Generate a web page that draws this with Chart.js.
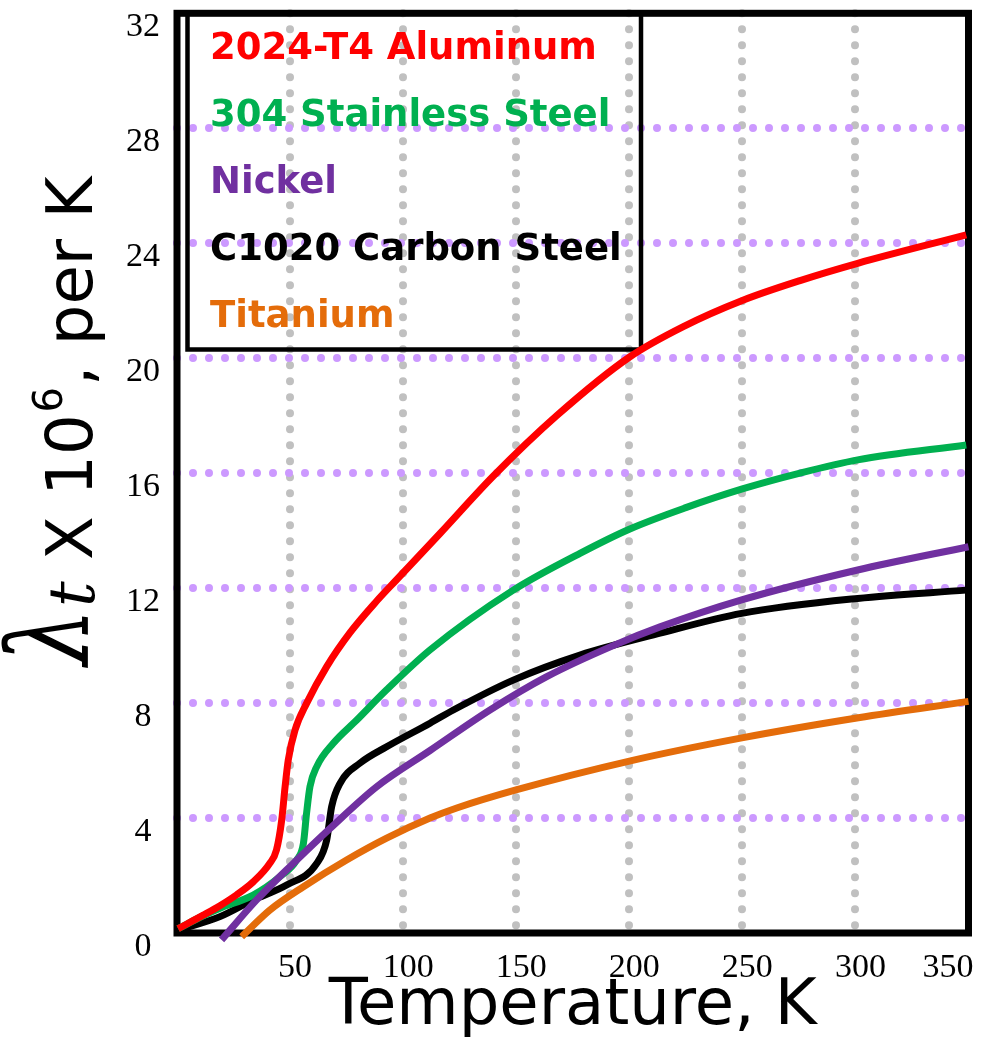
<!DOCTYPE html>
<html>
<head>
<meta charset="utf-8">
<script src="https://cdn.jsdelivr.net/npm/chart.js@4.4.1/dist/chart.umd.min.js"></script>
<style>
  html, body { margin: 0; padding: 0; background: #ffffff; }
  #wrap { width: 983px; height: 1039px; }
</style>
</head>
<body>
<div id="wrap"><canvas id="chart" width="983" height="1039"></canvas></div>
<script>
// Axis ticks
const tempTicks = [0, 50, 100, 150, 200, 250, 300, 350];
const alphaTicks = [0, 4, 8, 12, 16, 20, 24, 28, 32];

// Series names and colours
const seriesNames = ['2024-T4 Aluminum', '304 Stainless Steel', 'Nickel', 'C1020 Carbon Steel', 'Titanium'];
const seriesColors = ['#ff0000', '#00b050', '#7030a0', '#000000', '#e46c0a'];

// Thermal expansion coefficient (x 10^-6 per K) against temperature (K)
const aluminumT = [0.5, 11.6, 19, 26.4, 33.7, 41, 44, 46.3, 47.8, 49.2, 52.2, 57.3, 66.2, 76.5, 88.3, 97.2, 116.3, 139.9, 167.9, 200.3, 223.9, 249.7, 275.5, 301, 349];
const aluminumA = [0.15, 0.62, 0.95, 1.33, 1.78, 2.42, 2.89, 3.93, 5.09, 6.02, 7.06, 7.99, 9.27, 10.45, 11.55, 12.3, 13.9, 15.9, 18.0, 20.05, 21.1, 22.0, 22.7, 23.3, 24.29];

const stainlessT = [0.5, 11.6, 19, 33.7, 45.5, 52.9, 55.9, 57.3, 58.8, 61.8, 69.1, 79.5, 92.7, 111.9, 148.7, 178.2, 200, 225, 250, 275.5, 301, 349];
const stainlessA = [0.15, 0.6, 0.86, 1.32, 1.96, 2.54, 3.12, 4.17, 5.09, 5.79, 6.6, 7.41, 8.46, 9.85, 11.93, 13.21, 14.05, 14.8, 15.45, 16.0, 16.46, 16.98];

const nickelT = [19.7, 35.2, 51.4, 67.7, 88.3, 111.9, 138.4, 163.5, 192.9, 213.6, 249.7, 301, 350];
const nickelA = [-0.24, 1.15, 2.42, 3.64, 5.09, 6.35, 7.76, 8.92, 10.0, 10.65, 11.59, 12.63, 13.44];

const carbonT = [0.5, 19, 33.7, 48.5, 61.8, 66.2, 68.4, 72.1, 80.9, 92.7, 111.9, 122.2, 148.7, 178.2, 213.6, 249.7, 301, 349];
const carbonA = [0.1, 0.57, 1.15, 1.67, 2.42, 3.24, 4.4, 5.21, 5.91, 6.48, 7.3, 7.76, 8.8, 9.67, 10.43, 11.12, 11.64, 11.93];

const titaniumT = [28.6, 41.1, 55.9, 75, 92.7, 111.9, 123.7, 149.5, 201, 249.8, 301.3, 350];
const titaniumA = [-0.13, 0.8, 1.61, 2.54, 3.3, 4.0, 4.35, 4.97, 6.0, 6.79, 7.49, 8.06];

const seriesT = [aluminumT, stainlessT, nickelT, carbonT, titaniumT];
const seriesA = [aluminumA, stainlessA, nickelA, carbonA, titaniumA];

const datasets = seriesNames.map((name, i) => ({
  label: name,
  data: seriesT[i].map((t, k) => ({ x: t, y: seriesA[i][k] })),
  borderColor: seriesColors[i],
  backgroundColor: seriesColors[i],
  borderWidth: 7,
  pointRadius: 0,
  fill: false,
  cubicInterpolationMode: 'monotone',
  clip: false,
  order: name === 'Nickel' ? -1 : 0
}));

const transparent = 'rgba(0,0,0,0)';

// Round caps so that the zero-length dashes of the grid become dots
const roundCaps = {
  id: 'roundCaps',
  beforeDraw(chart) { chart.ctx.lineCap = 'round'; }
};

// Heavy frame round the plot and the box round the legend
const frames = {
  id: 'frames',
  beforeDatasetsDraw(chart) {
    const { ctx, chartArea: a } = chart;
    ctx.save();
    ctx.strokeStyle = '#000000';
    ctx.lineCap = 'butt';
    ctx.lineJoin = 'miter';
    ctx.setLineDash([]);
    ctx.lineWidth = 4.5;
    ctx.strokeRect(a.left + 10.5, a.top, 453.5, 336.2);
    ctx.lineWidth = 7;
    ctx.strokeRect(a.left, a.top, a.right - a.left, a.bottom - a.top);
    ctx.restore();
  }
};

// Rotated y-axis title: lambda_t X 10^6, per K
const yTitle = {
  id: 'yTitle',
  afterDraw(chart) {
    const ctx = chart.ctx;
    ctx.save();
    ctx.translate(92, 665);
    ctx.rotate(-Math.PI / 2);
    ctx.fillStyle = '#000000';
    ctx.textAlign = 'left';
    ctx.textBaseline = 'alphabetic';

    ctx.save();
    ctx.scale(0.8, 1);
    ctx.font = "italic 112px 'DejaVu Serif'";
    ctx.fillText('\u03bb', 0, -4);
    ctx.restore();

    ctx.font = "italic 64px 'DejaVu Serif'";
    ctx.fillText('t', 58, 2);

    let x = 105;
    ctx.font = "64px 'DejaVu Sans'";
    ctx.fillText('X 10', x, 0);
    x += ctx.measureText('X 10').width + 2;
    ctx.font = "40px 'DejaVu Sans'";
    ctx.fillText('6', x, -30);
    x += ctx.measureText('6').width + 1;
    ctx.font = "64px 'DejaVu Sans'";
    ctx.fillText(', per K', x, 0);
    ctx.restore();
  }
};

new Chart(document.getElementById('chart'), {
  type: 'line',
  data: { datasets },
  plugins: [roundCaps, frames, yTitle],
  options: {
    responsive: false,
    animation: false,
    events: [],
    layout: { padding: { left: 0, top: 13.3, right: 14.5, bottom: 0 } },
    plugins: {
      tooltip: { enabled: false },
      legend: {
        position: 'chartArea',
        align: 'start',
        title: { display: true, text: ' ', font: { size: 9, lineHeight: 1 }, padding: 0 },
        labels: {
          boxWidth: 0,
          boxHeight: 52.5,
          padding: 14.5,
          font: { family: "'DejaVu Sans'", weight: 'bold', size: 37 },
          generateLabels: (chart) => chart.data.datasets.map((ds, i) => ({
            text: ds.label,
            fontColor: ds.borderColor,
            fillStyle: transparent,
            strokeStyle: transparent,
            lineWidth: 0,
            hidden: false,
            datasetIndex: i
          }))
        }
      }
    },
    scales: {
      x: {
        type: 'linear',
        min: 0,
        max: 350,
        afterBuildTicks: (scale) => { scale.ticks = tempTicks.map(v => ({ value: v })); },
        afterFit: (scale) => { scale.height = 106; scale.paddingLeft = 0; scale.paddingRight = 0; },
        border: { display: false, dash: [0, 16] },
        grid: {
          drawTicks: false,
          lineWidth: 8,
          color: (c) => (c.tick && (c.tick.value === 0 || c.tick.value === 350)) ? transparent : '#c0c0c0'
        },
        ticks: {
          align: 'inner',
          autoSkip: false,
          maxRotation: 0,
          padding: 15,
          labelOffset: 5,
          color: '#000000',
          font: { family: "'Liberation Serif'", size: 34 },
          callback: (v) => v === 0 ? '' : String(v)
        },
        title: {
          display: true,
          text: 'Temperature, K',
          color: '#000000',
          font: { family: "'DejaVu Sans'", size: 64, lineHeight: 1 },
          padding: { top: 0, bottom: 0 }
        }
      },
      y: {
        type: 'linear',
        min: 0,
        max: 32,
        afterBuildTicks: (scale) => { scale.ticks = alphaTicks.map(v => ({ value: v })); },
        afterFit: (scale) => { scale.width = 177; scale.paddingTop = 0; scale.paddingBottom = 0; },
        border: { display: false, dash: [0, 16] },
        grid: {
          drawTicks: false,
          lineWidth: 8,
          color: (c) => (c.tick && (c.tick.value === 0 || c.tick.value === 32)) ? transparent : '#cc99ff'
        },
        ticks: {
          crossAlign: 'center',
          padding: 17,
          labelOffset: 14,
          color: '#000000',
          font: { family: "'Liberation Serif'", size: 34 },
          callback: (v) => String(v)
        }
      }
    }
  }
});
</script>
</body>
</html>
